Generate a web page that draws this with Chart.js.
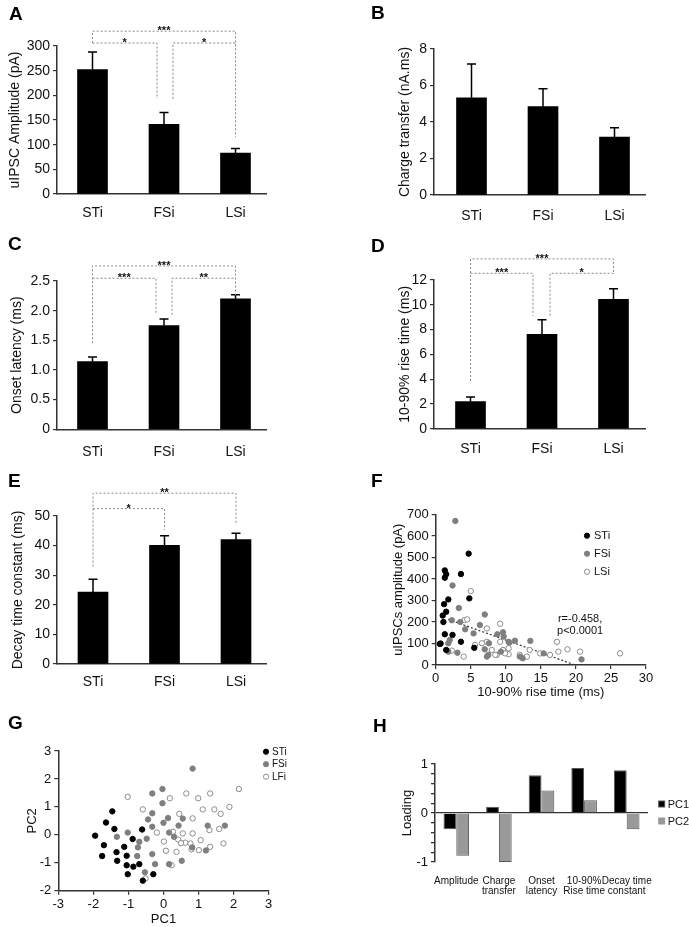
<!DOCTYPE html>
<html><head><meta charset="utf-8">
<script src="https://cdn.jsdelivr.net/npm/chart.js@4.4.0/dist/chart.umd.min.js"></script>
<style>
body{margin:0;background:#fff;width:689px;height:927px;position:relative;overflow:hidden;font-family:'Liberation Sans',Arial,Helvetica,sans-serif}
canvas{position:absolute}
.lbl{position:absolute;font-weight:bold;font-size:19px;line-height:19px;color:#000;z-index:5}
</style></head><body>
<div class="lbl" style="left:9px;top:4px">A</div>
<div class="lbl" style="left:371px;top:3px">B</div>
<div class="lbl" style="left:8px;top:234px">C</div>
<div class="lbl" style="left:371px;top:236px">D</div>
<div class="lbl" style="left:8px;top:471px">E</div>
<div class="lbl" style="left:371px;top:471px">F</div>
<div class="lbl" style="left:8px;top:713px">G</div>
<div class="lbl" style="left:373px;top:716px">H</div>
<script>
// ---------------- DATA ----------------
const groups = ['STi', 'FSi', 'LSi'];
const ampMean = [252, 141, 83];
const ampErr = [36, 24, 9];
const chargeMean = [5.33, 4.84, 3.18];
const chargeErr = [1.85, 0.98, 0.5];
const onsetMean = [1.14, 1.75, 2.20];
const onsetErr = [0.08, 0.11, 0.07];
const riseMean = [2.18, 7.62, 10.44];
const riseErr = [0.38, 1.18, 0.86];
const decayMean = [24.3, 40.1, 42.0];
const decayErr = [4.3, 3.2, 2.2];

// significance brackets: a/b = group index, y = bar level, ya/yb = leg ends
const sigA = [
  {a:0, b:2, y:330, ya:306, yb:115, t:'***'},
  {a:0, b:1, y:306, ya:306, yb:193, t:'*', dxb:-7},
  {a:1, b:2, y:306, ya:193, yb:306, t:'*', dxa:9}
];
const sigC = [
  {a:0, b:2, y:2.754, ya:1.45, yb:2.26, t:'***'},
  {a:0, b:1, y:2.546, ya:2.546, yb:1.93, t:'***', dxb:-8},
  {a:1, b:2, y:2.546, ya:1.93, yb:2.546, t:'**', dxa:8}
];
const sigD = [
  {a:0, b:2, y:13.7, ya:3.85, yb:12.54, t:'***'},
  {a:0, b:1, y:12.54, ya:12.54, yb:9.12, t:'***', dxb:-9},
  {a:1, b:2, y:12.54, ya:9.12, yb:12.54, t:'*', dxa:8}
];
const sigE = [
  {a:0, b:2, y:57.7, ya:32.9, yb:47, t:'**'},
  {a:0, b:1, y:52.5, ya:52.5, yb:45.3, t:'*'}
];

// F: 10-90% rise time (ms) vs uIPSC amplitude (pA)
const fSTi = [[0.7,100],[1.0,230],[1.1,200],[1.2,283],[1.3,440],[1.3,406],[1.5,422],[1.5,248],[1.3,143],
  [1.5,70],[1.8,305],[2.4,140],[3.6,108],[3.6,423],[4.7,518],[4.8,310],[5.5,80],[0.6,98]];
const fFSi = [[2.8,670],[2.4,370],[3.3,265],[7.0,235],[2.3,208],[3.5,200],[6.3,186],[4.2,166],[5.4,147],
  [8.8,143],[9.6,152],[9.7,132],[10.4,108],[11.3,113],[13.5,112],[1.8,101],[2.0,116],[1.8,62],[3.1,57],
  [7.0,73],[7.3,39],[7.6,101],[9.3,62],[10.5,104],[12.4,31],[15.4,54],[20.8,26],[7.5,47],[12.0,39]];
const fLSi = [[5.0,344],[4.1,209],[4.5,212],[9.2,192],[7.3,170],[6.6,101],[7.3,108],[9.2,108],[2.3,67],
  [4.0,39],[5.6,93],[8.0,70],[8.7,47],[9.6,70],[10.4,50],[10.4,78],[12.0,47],[13.0,39],[13.4,70],
  [14.9,54],[16.3,47],[17.3,108],[17.5,62],[18.8,73],[20.6,62],[26.3,54],[8.5,47],[9.9,54]];
const fFit = [[1.8,212],[19.9,0]];
const fStats = ['r=-0.458,', 'p<0.0001'];
const fStatsAt = [20.6, 214, 160];

// G: PCA scores
const gSTi = [[-1.95,-0.03],[-1.70,-0.37],[-1.64,0.44],[-1.75,-0.76],[-1.46,0.84],[-1.40,0.21],[-1.34,-0.62],
  [-1.32,-0.93],[-1.12,-0.43],[-1.05,-0.75],[-1.05,-1.09],[-1.02,-1.41],[-0.88,-0.15],[-0.86,-1.14],
  [-0.69,-1.05],[-0.61,0.19],[-0.59,-1.64],[-0.29,-1.41]];
const gFSi = [[0.83,2.37],[-0.03,1.64],[-0.32,1.48],[-0.03,1.13],[-0.32,0.77],[-0.44,0.55],[0.13,0.60],
  [0.0,0.43],[0.43,0.33],[0.55,0.58],[-0.32,0.29],[-1.02,0.08],[-1.33,-0.07],[-0.48,-0.14],[0.16,0.08],
  [0.30,-0.07],[-0.69,-0.25],[-0.73,-0.45],[-0.75,-0.76],[-0.32,-0.69],[-0.24,-1.05],[-0.53,-1.34],
  [0.16,-1.05],[0.52,-0.93],[0.82,-0.45],[1.21,-0.56],[1.26,0.33],[1.75,0.33]];
const gLFi = [[-1.02,1.36],[-0.59,0.91],[-0.19,0.08],[0.01,-0.24],[0.07,-0.57],[0.18,1.31],[0.27,0.11],
  [0.37,-0.61],[0.23,-1.09],[0.45,0.75],[0.42,-0.17],[0.55,0.05],[0.65,1.48],[0.62,-0.28],[0.77,-0.31],
  [0.83,0.05],[0.83,0.59],[0.80,-0.52],[0.99,1.31],[1.01,-0.55],[1.06,-0.19],[1.12,0.91],[1.33,1.48],
  [1.31,0.17],[1.33,-0.43],[1.45,0.91],[1.63,0.75],[1.59,0.21],[1.71,-0.31],[1.88,1.00],[2.15,1.64],
  [-0.51,-1.56],[0.50,-0.30]];

// H: loadings
const loadLabels = ['Amplitude', ['Charge','transfer'], ['Onset','latency'], ['10-90%','Rise time'], ['Decay time','constant']];
const pc1 = [-0.33, 0.13, 0.77, 0.92, 0.87];
const pc2 = [-0.87, -1.0, 0.46, 0.26, -0.33];

// ---------------- RENDERING ----------------
const FONT = "'Liberation Sans', Arial, Helvetica, sans-serif";
Chart.defaults.font.family = FONT;
Chart.defaults.font.size = 13;
Chart.defaults.color = '#111';
const AX = '#333';

function mkCanvas(r){
  const c = document.createElement('canvas');
  c.width = r.w; c.height = r.h;
  c.style.left = r.x + 'px'; c.style.top = r.y + 'px';
  c.style.width = r.w + 'px'; c.style.height = r.h + 'px';
  document.body.appendChild(c);
  return c;
}
function lay(r, a){
  return {padding:{left:0, top:a.t - r.y, right:(r.x + r.w) - a.r, bottom:0},
          yw:a.l - r.x, xh:(r.y + r.h) - a.b};
}

const errPlugin = {id:'errBars', afterDatasetsDraw(chart, args, o){
  if(!o || !o.errs) return;
  const ctx = chart.ctx, xs = chart.scales.x, ys = chart.scales.y;
  const ds = chart.data.datasets[0];
  ctx.save(); ctx.strokeStyle = '#000'; ctx.lineWidth = 1.5;
  ds.data.forEach((p, i) => {
    const x = xs.getPixelForValue(p.x), y0 = ys.getPixelForValue(p.y), y1 = ys.getPixelForValue(p.y + o.errs[i]);
    ctx.beginPath(); ctx.moveTo(x, y0); ctx.lineTo(x, y1);
    ctx.moveTo(x - 4.5, y1); ctx.lineTo(x + 4.5, y1); ctx.stroke();
  });
  ctx.restore();
}};
const bracketPlugin = {id:'brackets', afterDraw(chart, args, o){
  if(!o || !o.list) return;
  const ctx = chart.ctx, xs = chart.scales.x, ys = chart.scales.y;
  o.list.forEach(b => {
    const xa = xs.getPixelForValue(b.a) + (b.dxa || 0), xb = xs.getPixelForValue(b.b) + (b.dxb || 0);
    const y = ys.getPixelForValue(b.y), ya = ys.getPixelForValue(b.ya), yb = ys.getPixelForValue(b.yb);
    ctx.save(); ctx.strokeStyle = '#8a8a8a'; ctx.lineWidth = 1; ctx.setLineDash([2, 2]);
    ctx.beginPath(); ctx.moveTo(xa, ya); ctx.lineTo(xa, y); ctx.lineTo(xb, y); ctx.lineTo(xb, yb); ctx.stroke();
    ctx.restore();
    ctx.save(); ctx.fillStyle = '#111'; ctx.font = 'bold 11px ' + FONT; ctx.textAlign = 'center'; ctx.textBaseline = 'alphabetic';
    ctx.fillText(b.t, (xa + xb) / 2, y + 3);
    ctx.restore();
  });
}};
const legendPlugin = {id:'miniLegend', afterDraw(chart, args, o){
  if(!o || !o.items) return;
  const ctx = chart.ctx;
  o.items.forEach((it, i) => {
    const x = o.x, y = o.y + i * o.dy;
    ctx.save();
    ctx.fillStyle = it.fill; ctx.strokeStyle = it.stroke; ctx.lineWidth = 1;
    if(it.shape === 'square'){ ctx.fillRect(x - 3, y - 3, 6, 6); ctx.strokeRect(x - 3, y - 3, 6, 6); }
    else { ctx.beginPath(); ctx.arc(x, y, o.r || 2.6, 0, Math.PI * 2); ctx.fill(); ctx.stroke(); }
    ctx.fillStyle = '#111'; ctx.font = (o.size || 11) + 'px ' + FONT; ctx.textAlign = 'left'; ctx.textBaseline = 'middle';
    ctx.fillText(it.label, x + (o.gap || 7), y + 0.5);
    ctx.restore();
  });
}};
const statsPlugin = {id:'stats', afterDraw(chart, args, o){
  if(!o || !o.lines) return;
  const ctx = chart.ctx, xs = chart.scales.x, ys = chart.scales.y;
  ctx.save(); ctx.fillStyle = '#111'; ctx.font = '11px ' + FONT; ctx.textAlign = 'center'; ctx.textBaseline = 'middle';
  o.lines.forEach((t, i) => ctx.fillText(t, xs.getPixelForValue(o.at[0]), ys.getPixelForValue(o.at[i + 1])));
  ctx.restore();
}};

function yAxis(L, opt){
  const fs = opt.fs || 13;
  return {type:'linear', min:opt.min, max:opt.max,
    ticks:{stepSize:opt.step, padding:3, color:'#111', font:{size:fs}, callback:opt.cb || (v => String(v)), autoSkip:false},
    grid:{drawOnChartArea:false, drawTicks:true, tickLength:4, tickColor:AX, lineWidth:1.2},
    border:{display:true, color:AX, width:1.5},
    title:{display:true, text:opt.title, font:{size:fs}, color:'#111', padding:{top:opt.tpad, bottom:0}},
    afterFit(s){ s.width = L.yw; }};
}

function barPanel(r, a, c0, sp, means, errs, yopt, sig, lpad){
  const c = mkCanvas(r), L = lay(r, a);
  const xmin = -(c0 - a.l) / sp, xmax = xmin + (a.r - a.l) / sp;
  yopt.fs = 14;
  new Chart(c, {
    type:'bar',
    data:{datasets:[{data:means.map((m, i) => ({x:i, y:m})), backgroundColor:'#000', borderWidth:0, barThickness:30}]},
    options:{responsive:false, animation:false, devicePixelRatio:1,
      layout:{padding:L.padding},
      plugins:{legend:{display:false}, tooltip:{enabled:false}, errBars:{errs}, brackets:{list:sig}},
      scales:{
        x:{type:'linear', min:xmin, max:xmax, offset:false,
          ticks:{stepSize:1, includeBounds:false, autoSkip:false, maxRotation:0, padding:lpad, color:'#111', font:{size:14},
            callback:v => (Number.isInteger(v) && groups[v]) ? groups[v] : ''},
          grid:{display:false}, border:{display:true, color:AX, width:1.5},
          afterFit(s){ s.height = L.xh; }},
        y:yAxis(L, yopt)
      }},
    plugins:[errPlugin, bracketPlugin]
  });
}

// A
barPanel({x:0, y:0, w:340, h:240}, {l:57, r:266, t:46, b:194}, 92.5, 71.5, ampMean, ampErr,
  {min:0, max:300, step:50, title:'uIPSC Amplitude (pA)', tpad:6.6}, sigA, 3);
// B
barPanel({x:340, y:0, w:349, h:240}, {l:434, r:645, t:49, b:195}, 471.5, 71.5, chargeMean, chargeErr,
  {min:0, max:8, step:2, title:'Charge transfer (nA.ms)', tpad:56.6}, null, 5);
// C
barPanel({x:0, y:225, w:340, h:245}, {l:57, r:266, t:281, b:429.3}, 92.5, 71.5, onsetMean, onsetErr,
  {min:0, max:2.5, step:0.5, title:'Onset latency (ms)', tpad:8.6, cb:v => v === 0 ? '0' : v.toFixed(1)}, sigC, 6);
// D
barPanel({x:340, y:225, w:349, h:245}, {l:434, r:645, t:280, b:428.7}, 470.5, 71.5, riseMean, riseErr,
  {min:0, max:12, step:2, title:'10-90% rise time (ms)', tpad:56.6}, sigD, 4);
// E
barPanel({x:0, y:450, w:340, h:250}, {l:57, r:266, t:516, b:664}, 93, 71.5, decayMean, decayErr,
  {min:0, max:50, step:10, title:'Decay time constant (ms)', tpad:9.6}, sigE, 2);

// scatter helpers
const pt = arr => arr.map(([x, y]) => ({x, y}));
const stSty = {backgroundColor:'#000', borderColor:'#000', borderWidth:1, pointRadius:2.7};
const fsSty = {backgroundColor:'#7f7f7f', borderColor:'#7f7f7f', borderWidth:1, pointRadius:2.7};
const lsSty = {backgroundColor:'#fff', borderColor:'#8c8c8c', borderWidth:1, pointRadius:2.7};

function xAxisLin(L, opt){
  return {type:'linear', position:'bottom', min:opt.min, max:opt.max,
    ticks:{stepSize:opt.step, padding:2, color:'#111', font:{size:13}, autoSkip:false, maxRotation:0},
    grid:{drawOnChartArea:false, drawTicks:true, tickLength:4, tickColor:AX, lineWidth:1.2},
    border:{display:true, color:AX, width:1.5},
    title:{display:true, text:opt.title, font:{size:13}, color:'#111', padding:{top:0, bottom:0}},
    afterFit(s){ s.height = L.xh; }};
}

// F
(function(){
  const r = {x:340, y:450, w:349, h:250}, a = {l:435.7, r:646, t:514.5, b:665};
  const c = mkCanvas(r), L = lay(r, a);
  new Chart(c, {
    type:'scatter',
    data:{datasets:[
      Object.assign({label:'STi', data:pt(fSTi)}, stSty),
      Object.assign({label:'FSi', data:pt(fFSi)}, fsSty),
      Object.assign({label:'LSi', data:pt(fLSi)}, lsSty),
      {type:'line', label:'fit', data:pt(fFit), borderColor:'#333', borderWidth:1.2, borderDash:[2, 2], pointRadius:0, fill:false}
    ]},
    options:{responsive:false, animation:false, devicePixelRatio:1,
      layout:{padding:L.padding},
      plugins:{legend:{display:false}, tooltip:{enabled:false},
        miniLegend:{x:247, y:85.7, dy:18, items:[
          {label:'STi', fill:'#000', stroke:'#000'},
          {label:'FSi', fill:'#7f7f7f', stroke:'#7f7f7f'},
          {label:'LSi', fill:'#fff', stroke:'#8c8c8c'}]},
        stats:{lines:fStats, at:fStatsAt}},
      scales:{
        x:xAxisLin(L, {min:0, max:30, step:5, title:'10-90% rise time (ms)'}),
        y:yAxis(L, {min:0, max:700, step:100, title:'uIPSCs amplitude (pA)', tpad:50.2})
      }},
    plugins:[legendPlugin, statsPlugin]
  });
})();

// G
(function(){
  const r = {x:0, y:690, w:340, h:237}, a = {l:58.3, r:268.7, t:751, b:890.7};
  const c = mkCanvas(r), L = lay(r, a);
  new Chart(c, {
    type:'scatter',
    data:{datasets:[
      Object.assign({label:'STi', data:pt(gSTi)}, stSty),
      Object.assign({label:'FSi', data:pt(gFSi)}, fsSty),
      Object.assign({label:'LFi', data:pt(gLFi)}, lsSty)
    ]},
    options:{responsive:false, animation:false, devicePixelRatio:1,
      layout:{padding:L.padding},
      plugins:{legend:{display:false}, tooltip:{enabled:false},
        miniLegend:{x:266, y:61.7, dy:12.5, size:10, gap:6, items:[
          {label:'STi', fill:'#000', stroke:'#000'},
          {label:'FSi', fill:'#7f7f7f', stroke:'#7f7f7f'},
          {label:'LFi', fill:'#fff', stroke:'#8c8c8c'}]}},
      scales:{
        x:xAxisLin(L, {min:-3, max:3, step:1, title:'PC1'}),
        y:yAxis(L, {min:-2, max:3, step:1, title:'PC2', tpad:24.2})
      }},
    plugins:[legendPlugin]
  });
})();

// H
(function(){
  const r = {x:340, y:700, w:349, h:227}, a = {l:435, r:648, t:764, b:862};
  const c = mkCanvas(r), L = lay(r, a);
  new Chart(c, {
    type:'bar',
    data:{labels:loadLabels, datasets:[
      {label:'PC1', data:pc1, backgroundColor:'#000', borderColor:'#555', borderWidth:1},
      {label:'PC2', data:pc2, backgroundColor:'#999', borderColor:'#555', borderWidth:1}
    ]},
    options:{responsive:false, animation:false, devicePixelRatio:1,
      layout:{padding:L.padding},
      datasets:{bar:{categoryPercentage:0.6, barPercentage:1.0}},
      plugins:{legend:{display:false}, tooltip:{enabled:false},
        miniLegend:{x:321.7, y:104, dy:17, size:11, gap:6, items:[
          {label:'PC1', fill:'#000', stroke:'#555', shape:'square'},
          {label:'PC2', fill:'#999', stroke:'#999', shape:'square'}]}},
      scales:{
        x:{type:'category', grid:{display:false}, border:{display:false},
          ticks:{padding:6, color:'#111', font:{size:10, lineHeight:1.0}, autoSkip:false, maxRotation:0},
          afterFit(s){ s.height = L.xh; }},
        y:Object.assign(yAxis(L, {min:-1, max:1, step:0.2, title:'Loading', tpad:59.2,
            cb:v => Math.abs(v - Math.round(v)) < 1e-6 ? String(Math.round(v)) : ''}),
          {grid:{drawOnChartArea:true, drawTicks:true, tickLength:4, tickColor:AX, lineWidth:1.3,
            color:ctx => (ctx.tick && Math.abs(ctx.tick.value) < 1e-6) ? AX : 'rgba(0,0,0,0)'}})
      }},
    plugins:[legendPlugin]
  });
})();
</script>
</body></html>
